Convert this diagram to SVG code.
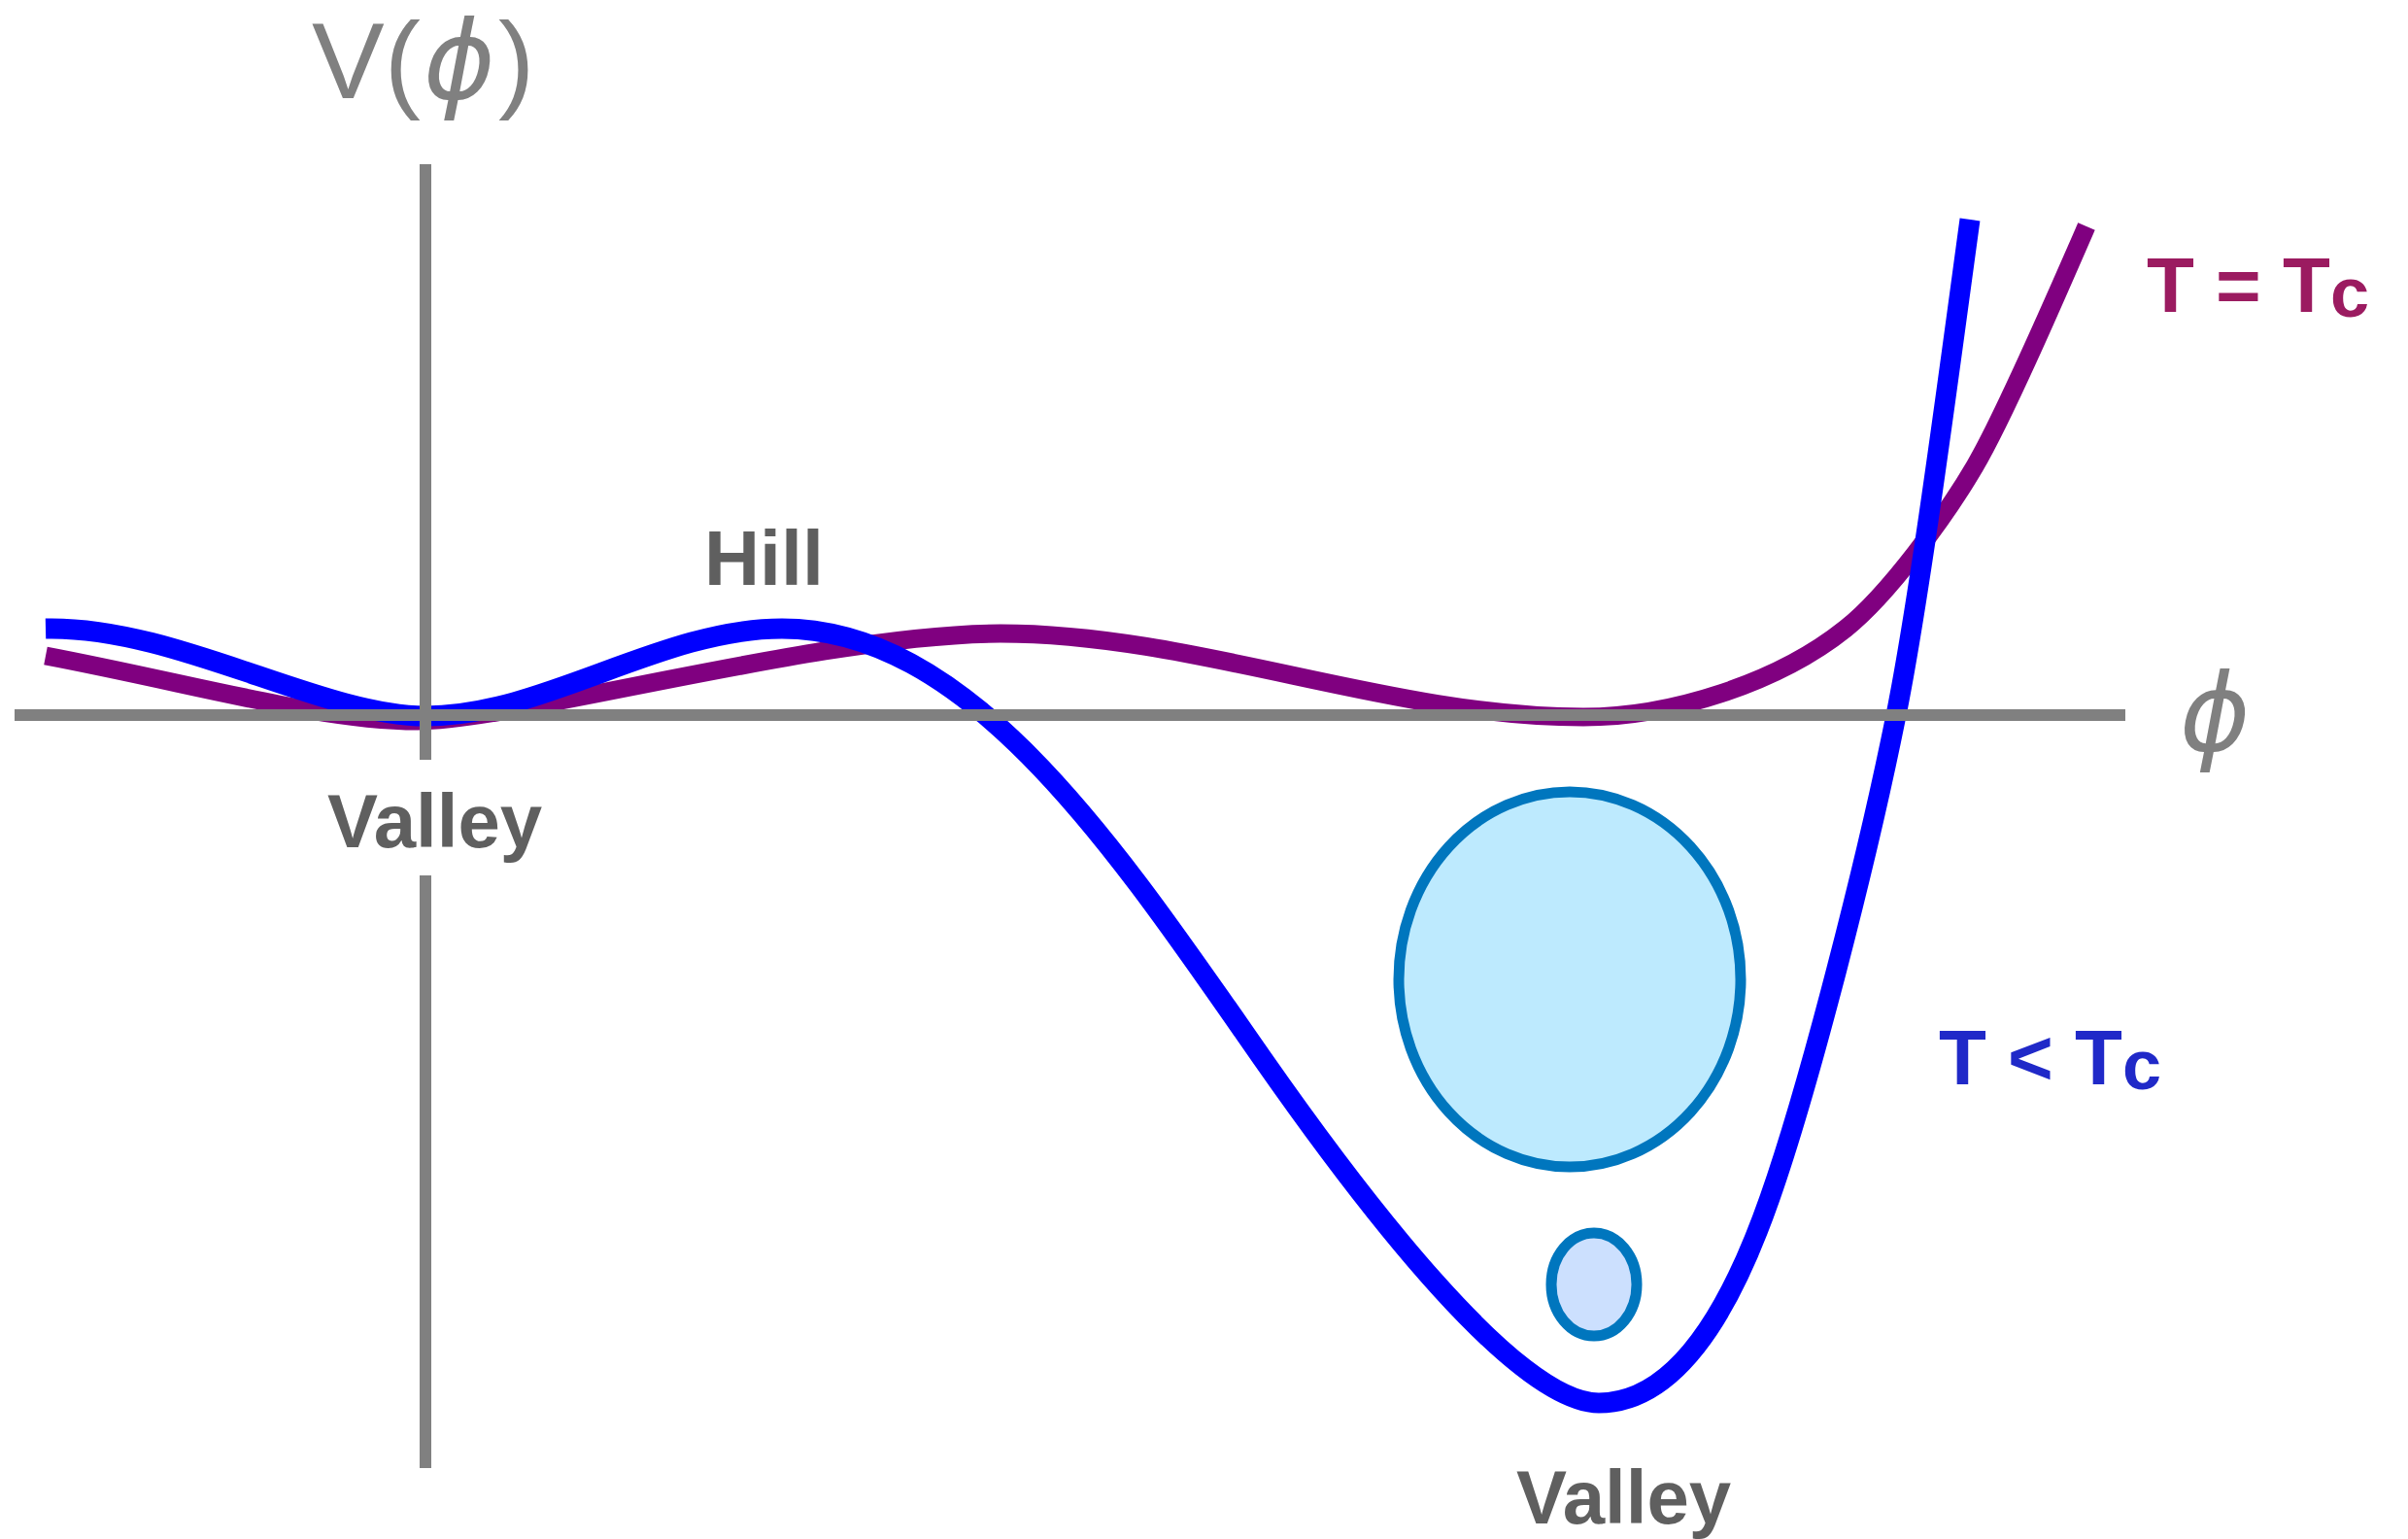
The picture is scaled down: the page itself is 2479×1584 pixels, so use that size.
<svg xmlns="http://www.w3.org/2000/svg" width="2479" height="1584" viewBox="0 0 2479 1584">
<style>
.axis{stroke:#808080;stroke-width:12;fill:none}
.curve{fill:none;stroke-linecap:butt;stroke-linejoin:round}
.lbl{font-family:"Liberation Sans",Arial,sans-serif;font-weight:bold;fill:#5f5f5f}
.math{font-family:"Liberation Sans",Arial,sans-serif;fill:#808080}
.phi{font-family:"DejaVu Sans",sans-serif;font-style:oblique}
.t{font-family:"Liberation Sans",Arial,sans-serif;font-weight:bold}
.ring{stroke:#0076be;stroke-width:11}
</style>
<rect width="2479" height="1584" fill="#ffffff"/>
<g id="curves">
<path id="curve-tc" class="curve" stroke="#800080" stroke-width="19" d="M47,675 C200,704 330,742 430,742 C530,742 850,652 1030,652 C1230,652 1430,738 1630,738 C1720,738 1830,703 1900,647 C1944,612 2003,531 2033,480 C2063,429 2118,302 2148,233"/>
<path id="curve-below" class="curve" stroke="#0000ff" stroke-width="21" d="M47,647 C180,644 330,737 438,737 C560,737 680,647 805,647 C1000,647 1150,875 1300,1090 C1400,1233 1560,1444 1646,1444 C1740,1444 1795,1310 1822,1233 C1862,1119 1922,886 1952,736 C1977,611 2008,372 2028,226"/>
</g>
<g id="axes">
<line class="axis" x1="15" y1="736" x2="2188" y2="736"/>
<line class="axis" x1="438" y1="169" x2="438" y2="782"/>
<line class="axis" x1="438" y1="901" x2="438" y2="1511"/>
</g>
<g id="bubble-large"><ellipse class="ring" cx="1616" cy="1008" rx="176" ry="193" fill="#bdeafe"/></g>
<g id="bubble-small"><ellipse class="ring" cx="1641" cy="1322" rx="44" ry="53" fill="#cce0fe"/></g>
<g id="labels">
<text class="math" x="321" y="101" font-size="112">V(<tspan class="phi" dx="3">ϕ</tspan><tspan dx="3">)</tspan></text>
<text class="math phi" x="2244" y="772" font-size="110">ϕ</text>
<text class="lbl" x="725" y="602" font-size="79">Hill</text>
<text class="lbl" x="337" y="872" font-size="78">Valley</text>
<text class="lbl" x="1561" y="1568" font-size="78">Valley</text>
<text class="t" x="2210" y="321" font-size="80" fill="#9b1b60">T = T<tspan font-size="72" dy="5">c</tspan></text>
<text class="t" x="1996" y="1116" font-size="80" fill="#2029c8">T &lt; T<tspan font-size="72" dy="5">c</tspan></text>
</g>
</svg>
